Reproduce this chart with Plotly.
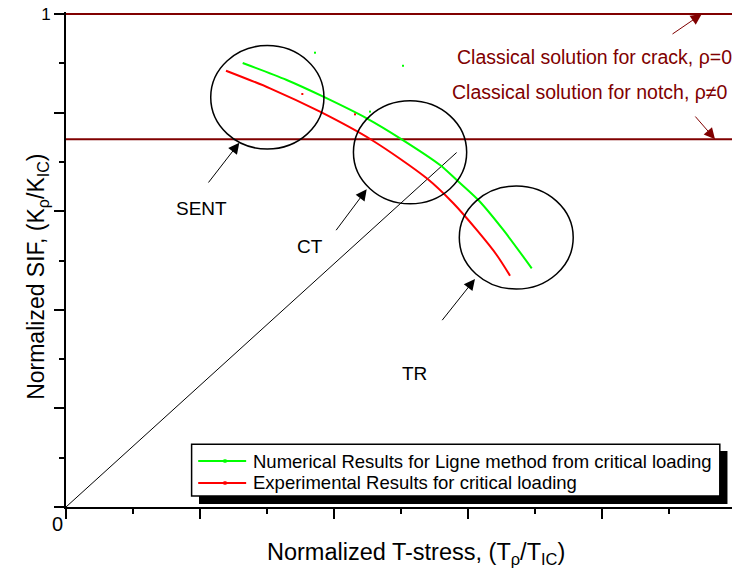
import plotly.graph_objects as go

# Critical-loading curves: normalized T-stress vs normalized SIF
num_x = [0.2637, 0.3294, 0.3840, 0.4488, 0.5010, 0.5582, 0.5831, 0.6154, 0.6527, 0.6951]
num_y = [0.9006, 0.8661, 0.8323, 0.7884, 0.7458, 0.6937, 0.6633, 0.6227, 0.5619, 0.4842]
exp_x = [0.2388, 0.3045, 0.3791, 0.4563, 0.5384, 0.5781, 0.6130, 0.6428, 0.6627]
exp_y = [0.8850, 0.8493, 0.8018, 0.7444, 0.6667, 0.6160, 0.5619, 0.5112, 0.4692]

# Isolated sample points
num_pts_x = [0.3716, 0.503, 0.4537]
num_pts_y = [0.9215, 0.895, 0.802]
exp_pts_x = [0.3527, 0.4313]
exp_pts_y = [0.8377, 0.7965]

# Reference line from the origin
diag_x = [0.0, 0.583]
diag_y = [0.0, 0.719]

# Classical solutions (constant SIF levels)
crack_level = 1.0
notch_level = 0.746

# Specimen regions: name, (x0, x1, y0, y1)
specimens = ["SENT", "CT", "TR"]
regions = [(0.216, 0.385, 0.726, 0.936),
           (0.429, 0.598, 0.615, 0.824),
           (0.587, 0.757, 0.442, 0.651)]
# label position and arrow (tail -> head) for each specimen
label_pos = [(0.2025, 0.6065), (0.3649, 0.528), (0.5194, 0.2718)]
arrows = [((0.2109, 0.6552), (0.2587, 0.7390)),
          ((0.4015, 0.5584), (0.4488, 0.6444)),
          ((0.5597, 0.3759), (0.6104, 0.4625))]

legend_names = ["Numerical Results for Ligne method from critical loading",
                "Experimental Results for critical loading"]

x_range = [0.0, 0.994]
y_range = [0.0, 1.00406]

FONT = "Arial, Liberation Sans, sans-serif"
DARKRED = "#800000"
GREEN = "#00ff00"
RED = "#ff0000"

fig = go.Figure()

# classical solution levels
for lvl in (crack_level, notch_level):
    fig.add_trace(go.Scatter(x=x_range, y=[lvl, lvl], mode="lines",
                             line=dict(color=DARKRED, width=2),
                             showlegend=False, hoverinfo="skip"))

fig.add_trace(go.Scatter(x=diag_x, y=diag_y, mode="lines",
                         line=dict(color="black", width=1),
                         showlegend=False, hoverinfo="skip"))

fig.add_trace(go.Scatter(x=num_x, y=num_y, mode="lines", name=legend_names[0],
                         line=dict(color=GREEN, width=2, shape="spline", smoothing=0.8),
                         showlegend=False))
fig.add_trace(go.Scatter(x=exp_x, y=exp_y, mode="lines", name=legend_names[1],
                         line=dict(color=RED, width=2, shape="spline", smoothing=0.8),
                         showlegend=False))
fig.add_trace(go.Scatter(x=num_pts_x, y=num_pts_y, mode="markers",
                         marker=dict(color=GREEN, size=2, symbol="square"),
                         showlegend=False))
fig.add_trace(go.Scatter(x=exp_pts_x, y=exp_pts_y, mode="markers",
                         marker=dict(color=RED, size=2, symbol="square"),
                         showlegend=False))

shapes = []
for (x0, x1, y0, y1) in regions:
    shapes.append(dict(type="circle", xref="x", yref="y", x0=x0, x1=x1, y0=y0, y1=y1,
                       line=dict(color="black", width=1.5)))

# legend box with drop shadow
shapes.append(dict(type="rect", xref="paper", yref="paper",
                   x0=0.1997, x1=0.9932, y0=0.0061, y1=0.1131,
                   fillcolor="black", line=dict(width=0), layer="above"))
shapes.append(dict(type="rect", xref="paper", yref="paper",
                   x0=0.1886, x1=0.9817, y0=0.0222, y1=0.1267,
                   fillcolor="white", line=dict(color="black", width=1.5), layer="above"))
legend_rows = [0.0929, 0.0485]
legend_colors = [GREEN, RED]
annotations = []
for name, color, ry in zip(legend_names, legend_colors, legend_rows):
    shapes.append(dict(type="line", xref="paper", yref="paper",
                       x0=0.1985, x1=0.2705, y0=ry, y1=ry,
                       line=dict(color=color, width=2), layer="above"))
    shapes.append(dict(type="rect", xref="paper", yref="paper",
                       x0=0.2365, x1=0.2410, y0=ry - 0.0035, y1=ry + 0.0035,
                       fillcolor=color, line=dict(width=0), layer="above"))
    annotations.append(dict(x=0.2785, y=ry, xref="paper", yref="paper",
                            xanchor="left", yanchor="middle",
                            text=name, showarrow=False,
                            font=dict(family=FONT, size=18.5, color="black")))

for name, (lx, ly) in zip(specimens, label_pos):
    annotations.append(dict(x=lx, y=ly, xref="x", yref="y", text=name, showarrow=False,
                            xanchor="center", yanchor="middle",
                            font=dict(family=FONT, size=19, color="black")))
for (tail, head) in arrows:
    annotations.append(dict(x=head[0], y=head[1], ax=tail[0], ay=tail[1],
                            xref="x", yref="y", axref="x", ayref="y", text="",
                            showarrow=True, arrowhead=2, arrowsize=2.2, arrowwidth=1,
                            arrowcolor="black"))

# classical solution labels and pointers
annotations.append(dict(x=0.5806, y=0.9118, xref="x", yref="y",
                        xanchor="left", yanchor="middle",
                        text="Classical solution for crack, \u03c1=0", showarrow=False,
                        font=dict(family=FONT, size=19.5, color=DARKRED)))
annotations.append(dict(x=0.5731, y=0.8408, xref="x", yref="y",
                        xanchor="left", yanchor="middle",
                        text="Classical solution for notch, \u03c1\u22600", showarrow=False,
                        font=dict(family=FONT, size=19.5, color=DARKRED)))
annotations.append(dict(x=0.9488, y=crack_level, ax=0.903, ay=0.9574,
                        xref="x", yref="y", axref="x", ayref="y", text="",
                        showarrow=True, arrowhead=2, arrowsize=2.2, arrowwidth=1,
                        arrowcolor=DARKRED))
annotations.append(dict(x=0.9687, y=notch_level, ax=0.9373, ay=0.7951,
                        xref="x", yref="y", axref="x", ayref="y", text="",
                        showarrow=True, arrowhead=2, arrowsize=2.2, arrowwidth=1,
                        arrowcolor=DARKRED))

# axis titles and origin label
annotations.append(dict(x=0.5255, y=-0.093, xref="paper", yref="paper",
                        xanchor="center", yanchor="middle",
                        text="Normalized T-stress, (T<sub>\u03c1</sub>/T<sub>IC</sub>)",
                        showarrow=False, font=dict(family=FONT, size=23.5, color="black")))
annotations.append(dict(x=-0.042, y=0.465, xref="paper", yref="paper", textangle=-90,
                        xanchor="center", yanchor="middle",
                        text="Normalized SIF, (K<sub>\u03c1</sub>/K<sub>IC</sub>)",
                        showarrow=False, font=dict(family=FONT, size=23, color="black")))
annotations.append(dict(x=-0.0135, y=-0.0343, xref="paper", yref="paper", text="0",
                        xanchor="center", yanchor="middle",
                        showarrow=False, font=dict(family=FONT, size=20, color="black")))

fig.update_layout(
    width=732, height=569,
    margin=dict(l=66, r=0, t=12, b=62),
    paper_bgcolor="white", plot_bgcolor="white",
    font=dict(family=FONT, color="black"),
    shapes=shapes, annotations=annotations,
    showlegend=False,
)

fig.update_xaxes(range=x_range, showgrid=False, zeroline=False,
                 showline=True, linecolor="black", linewidth=2,
                 ticks="outside", tickcolor="black", tickwidth=2, ticklen=10,
                 tick0=0, dtick=0.2, showticklabels=False,
                 minor=dict(ticks="outside", ticklen=5, tickwidth=2, tickcolor="black",
                            dtick=0.1, tick0=0, showgrid=False))
fig.update_yaxes(range=y_range, showgrid=False, zeroline=False,
                 showline=True, linecolor="black", linewidth=2,
                 ticks="outside", tickcolor="black", tickwidth=2, ticklen=10,
                 tickmode="array", tickvals=[0, 0.2, 0.4, 0.6, 0.8, 1.0],
                 ticktext=["", "", "", "", "", "1"],
                 tickfont=dict(family=FONT, size=17, color="black"),
                 minor=dict(ticks="outside", ticklen=5, tickwidth=2, tickcolor="black",
                            dtick=0.1, tick0=0, showgrid=False))

fig.write_html("out.html")
